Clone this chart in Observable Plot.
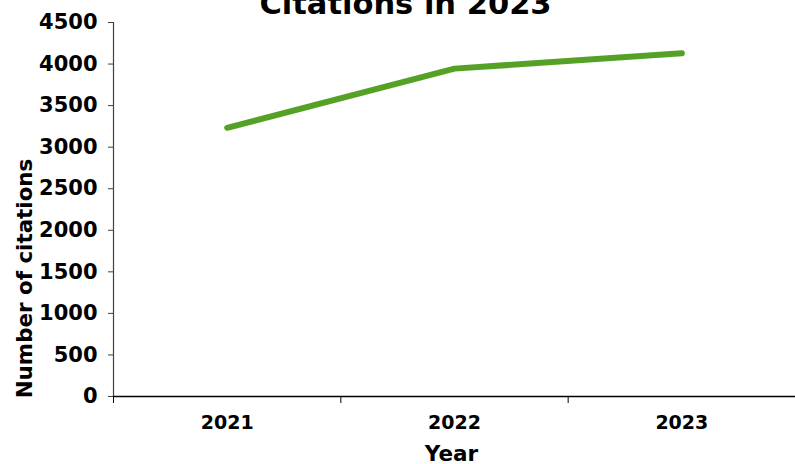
<!DOCTYPE html>
<html>
<head>
<meta charset="utf-8">
<script src="https://cdn.jsdelivr.net/npm/d3@7"></script>
<script src="https://cdn.jsdelivr.net/npm/@observablehq/plot@0.6"></script>
<style>
  html, body { margin: 0; padding: 0; background: #fff; }
  #chart svg { display: block; }
</style>
</head>
<body>
<div id="chart"></div>
<script>
const years = [2021, 2022, 2023];
const citations = [3233, 3945, 4130];
const yTicks = [0, 500, 1000, 1500, 2000, 2500, 3000, 3500, 4000, 4500];
const title = "Citations in 2023";
const xLabel = "Year";
const yLabel = "Number of citations";

const data = years.map((y, i) => ({year: y, value: citations[i]}));
const bounds = [years[0] - 0.5, ...years.map(y => y + 0.5)];

const font = "'DejaVu Sans', sans-serif";

const chart = Plot.plot({
  width: 795,
  height: 464,
  marginLeft: 113,
  marginRight: 0,
  marginTop: 22,
  marginBottom: 68,
  style: {fontFamily: font, fontWeight: "bold", fontSize: "20px", color: "#000", background: "#fff", overflow: "hidden"},
  x: {type: "linear", domain: [bounds[0], bounds[bounds.length - 1]], axis: null},
  y: {domain: [0, 4500], axis: null},
  marks: [
    Plot.axisY({ticks: yTicks, tickSize: 5, tickPadding: 11, tickFormat: d => String(d), label: null, stroke: "#404040", fontSize: 21}),
    Plot.axisX({ticks: bounds, tickSize: 7, tickFormat: () => "", label: null, stroke: "#000"}),
    Plot.axisX({ticks: years, tickSize: 0, tickPadding: 19, tickFormat: d => String(d), label: null, fontSize: 19}),
    Plot.ruleX([bounds[0]], {y1: 0, y2: 4500, stroke: "#404040", strokeWidth: 1.2}),
    Plot.ruleY([0], {stroke: "#000", strokeWidth: 1.5}),
    Plot.line(data, {x: "year", y: "value", stroke: "#55a125", strokeWidth: 6, strokeLinecap: "round", strokeLinejoin: "round"}),
    Plot.text([title], {frameAnchor: "top", dy: -9, lineAnchor: "bottom", fontSize: 30.5, fontWeight: "bold", dx: -49}),
    Plot.text([xLabel], {frameAnchor: "bottom", dy: 64, lineAnchor: "bottom", fontSize: 21.5, fontWeight: "bold", dx: -3}),
    Plot.text([yLabel], {frameAnchor: "left", dx: -88, dy: 69, rotate: -90, textAnchor: "middle", fontSize: 21.4, fontWeight: "bold"})
  ]
});
document.getElementById("chart").appendChild(chart);
</script>
</body>
</html>
